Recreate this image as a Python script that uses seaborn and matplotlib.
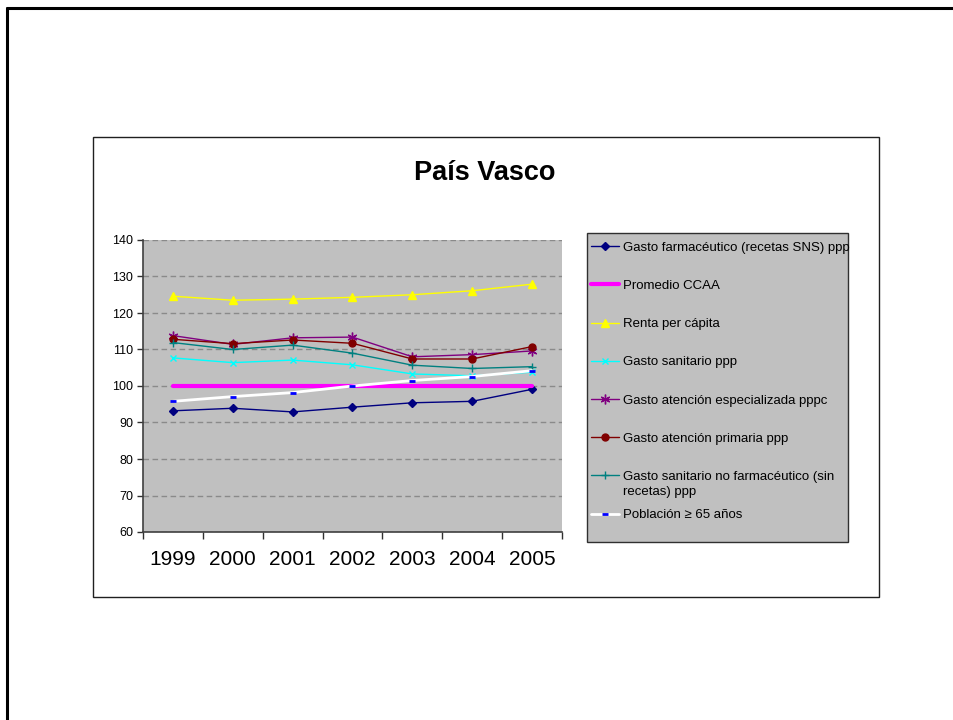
import numpy as np
import pandas as pd
import matplotlib
matplotlib.use("Agg")
import matplotlib.pyplot as plt
import seaborn as sns
from matplotlib.patches import Rectangle
from matplotlib.lines import Line2D

sns.set_theme(style="white")
plt.rcParams["font.family"] = ["Liberation Sans", "DejaVu Sans"]
plt.rcParams["text.color"] = "black"
plt.rcParams["xtick.color"] = "black"
plt.rcParams["ytick.color"] = "black"

years = ["1999", "2000", "2001", "2002", "2003", "2004", "2005"]

gasto_farma = [93.2, 93.9, 92.9, 94.2, 95.4, 95.8, 99.1]
promedio = [100, 100, 100, 100, 100, 100, 100]
renta = [124.6, 123.5, 123.8, 124.3, 125.0, 126.1, 127.9]
gasto_sanitario = [107.7, 106.4, 107.1, 105.8, 103.3, 102.8, 103.8]
gasto_especializada = [113.8, 111.4, 113.2, 113.4, 108.0, 108.6, 109.6]
gasto_primaria = [112.8, 111.6, 112.6, 111.7, 107.4, 107.4, 110.8]
gasto_no_farma = [111.9, 110.0, 111.2, 109.0, 105.7, 104.8, 105.3]
poblacion = [95.8, 97.1, 98.2, 100.0, 101.5, 102.6, 104.2]

series = [
    ("Gasto farmacéutico (recetas SNS) ppp", gasto_farma, "#000080", "D", 4, 1.0),
    ("Promedio CCAA", promedio, "#FF00FF", None, 0, 3.0),
    ("Renta per cápita", renta, "#FFFF00", "^", 5.5, 1.0),
    ("Gasto sanitario ppp", gasto_sanitario, "#00FFFF", "x", 5, 1.0),
    ("Gasto atención especializada pppc", gasto_especializada, "#800080", (6, 2, 0), 7, 1.0),
    ("Gasto atención primaria ppp", gasto_primaria, "#800000", "o", 5, 1.0),
    ("Gasto sanitario no farmacéutico (sin", gasto_no_farma, "#008080", "+", 6, 1.0),
    ("Población ≥ 65 años", poblacion, "#FFFFFF", "_", 5, 2.0),
]

W, H = 954, 720
fig = plt.figure(figsize=(W / 100, H / 100), dpi=100)
fig.patch.set_facecolor("white")

# outer frame (left and top edges only visible)
fig.add_artist(Line2D([7 / W, 7 / W], [0, 1 - 8 / H], color="black", lw=2.2,
                      transform=fig.transFigure))
fig.add_artist(Line2D([7 / W, 1], [1 - 8 / H, 1 - 8 / H], color="black", lw=2.2,
                      transform=fig.transFigure))

# chart box
fig.add_artist(Rectangle((93 / W, 1 - 597 / H), 786 / W, 460 / H, transform=fig.transFigure,
                         facecolor="white", edgecolor="#202020", lw=1.0, zorder=0))

ax = fig.add_axes([143 / W, 1 - 532 / H, 419 / W, 292 / H])
ax.set_facecolor("#C0C0C0")

pos = np.arange(len(years))
for name, vals, color, marker, ms, lw in series:
    kw = dict(marker=marker, markersize=ms) if marker else {}
    if name.startswith("Población"):
        kw.update(markerfacecolor="#0000FF", markeredgecolor="#0000FF", markeredgewidth=2.0)
    elif marker:
        kw.update(markerfacecolor=color, markeredgecolor=color, markeredgewidth=1.0)
    sns.lineplot(x=pos, y=vals, ax=ax, color=color, linewidth=lw, label=name, **kw)

ax.set_xlim(-0.5, len(years) - 0.5)
ax.set_ylim(60, 140)
ax.set_yticks(range(60, 141, 10))
ax.yaxis.grid(True, color="#8a8a8a", linestyle=(0, (4, 2.5)), linewidth=1.0)
ax.set_axisbelow(True)

ax.set_xticks(np.arange(-0.5, len(years)), labels=[""] * (len(years) + 1))
ax.set_xticks(pos, labels=years, minor=True)
ax.tick_params(axis="x", which="major", direction="out", length=5, width=1, color="#303030", bottom=True)
ax.tick_params(axis="x", which="minor", length=0, labelsize=15, pad=13)
ax.tick_params(axis="y", direction="out", length=4, width=1, color="#303030", left=True,
               labelsize=9, pad=3)

for s in ["top", "right"]:
    ax.spines[s].set_visible(False)
for s in ["left", "bottom"]:
    ax.spines[s].set_color("#404040")
    ax.spines[s].set_linewidth(1.2)
ax.set_xlabel("")
ax.set_ylabel("")

fig.text(485 / W, 1 - 173 / H, "País Vasco", ha="center", va="center",
         fontsize=19.5, fontweight="bold", color="black")

# legend box
fig.add_artist(Rectangle((587 / W, 1 - 542 / H), 261 / W, 309 / H, transform=fig.transFigure,
                         facecolor="#C0C0C0", edgecolor="#303030", lw=1.0, zorder=1))
handles, labels = ax.get_legend_handles_labels()
ax.get_legend().remove()
leg = fig.legend(handles, labels, loc="upper left", bbox_to_anchor=(591 / W, 1 - 241.5 / H),
                 frameon=False, fontsize=9.5, handlelength=2.1, handletextpad=0.3,
                 labelspacing=1.97, borderpad=0, borderaxespad=0)
for t in leg.get_texts():
    t.set_color("black")
leg.set_zorder(2)
# second line of the wrapped legend label
fig.text(623 / W, 1 - 492 / H, "recetas) ppp", ha="left", va="center",
         fontsize=9.5, color="black", zorder=3)

fig.savefig("out.png", dpi=100)
